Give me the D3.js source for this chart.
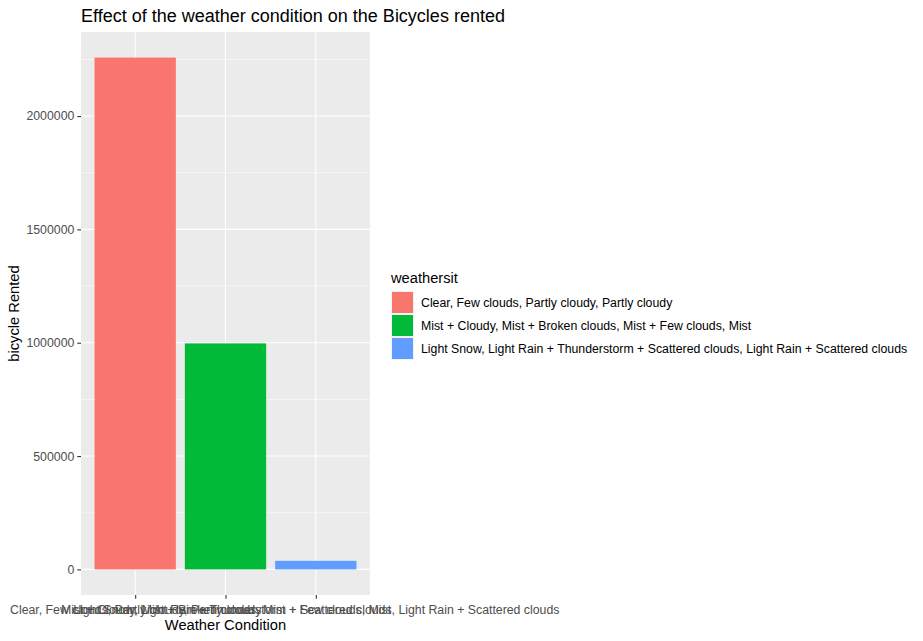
<!DOCTYPE html>
<html><head><meta charset="utf-8">
<script src="https://cdn.jsdelivr.net/npm/d3@7"></script>
<style>body{margin:0;background:#fff;} text{font-family:"Liberation Sans",Arial,sans-serif;}</style>
</head><body><svg id="c" width="923" height="641"></svg>
<script>
const categories = [
  "Clear, Few clouds, Partly cloudy, Partly cloudy",
  "Mist + Cloudy, Mist + Broken clouds, Mist + Few clouds, Mist",
  "Light Snow, Light Rain + Thunderstorm + Scattered clouds, Light Rain + Scattered clouds"
];
const rented = [2257952, 996858, 37869];
const colors = ["#F8766D", "#00BA38", "#619CFF"];
const yTicks = [0, 500000, 1000000, 1500000, 2000000];

const svg = d3.select("#c");
const P = {l:81, r:370, t:32, b:595};
const FS = "12.3px";

const ymax = d3.max(rented);
const y = d3.scaleLinear().domain([-0.05*ymax, 1.05*ymax]).range([P.b, P.t]);
const xc = d3.scaleLinear().domain([0.4, 3.6]).range([P.l, P.r]);
const unit = xc(2) - xc(1);

svg.append("rect").attr("x",P.l).attr("y",P.t).attr("width",P.r-P.l).attr("height",P.b-P.t).attr("fill","#EBEBEB");

const minors = [250000, 750000, 1250000, 1750000, 2250000];
svg.selectAll(".mg").data(minors).enter().append("line")
  .attr("x1",P.l).attr("x2",P.r).attr("y1",d=>y(d)).attr("y2",d=>y(d))
  .attr("stroke","#fff").attr("stroke-width",0.55);
svg.selectAll(".gy").data(yTicks).enter().append("line")
  .attr("x1",P.l).attr("x2",P.r).attr("y1",d=>y(d)).attr("y2",d=>y(d))
  .attr("stroke","#fff").attr("stroke-width",1.1);
svg.selectAll(".gx").data(categories).enter().append("line")
  .attr("x1",(d,i)=>xc(i+1)).attr("x2",(d,i)=>xc(i+1)).attr("y1",P.t).attr("y2",P.b)
  .attr("stroke","#fff").attr("stroke-width",1.1);

svg.selectAll(".bar").data(rented).enter().append("rect")
  .attr("x",(d,i)=>xc(i+1)-0.45*unit).attr("width",0.9*unit)
  .attr("y",d=>y(d)).attr("height",d=>y(0)-y(d))
  .attr("fill",(d,i)=>colors[i]);

const ya = svg.append("g").attr("transform",`translate(${P.l},0)`)
  .call(d3.axisLeft(y).tickValues(yTicks).tickSize(3.7).tickSizeOuter(0).tickPadding(3).tickFormat(d3.format("d")));
ya.select(".domain").remove();
ya.selectAll("line").attr("stroke","#333").attr("stroke-width",1.1);
ya.selectAll("text").attr("fill","#4D4D4D").style("font-size",FS).style("font-family","Liberation Sans, Arial, sans-serif");

const xa = svg.append("g").attr("transform",`translate(0,${P.b})`)
  .call(d3.axisBottom(xc).tickValues([1,2,3]).tickSize(3.7).tickSizeOuter(0).tickPadding(6.5).tickFormat(d=>categories[d-1]));
xa.select(".domain").remove();
xa.selectAll("line").attr("stroke","#333").attr("stroke-width",1.1);
xa.selectAll("text").attr("fill","#4D4D4D").style("font-size",FS).style("font-family","Liberation Sans, Arial, sans-serif");

svg.append("text").attr("x",(P.l+P.r)/2).attr("y",630).attr("text-anchor","middle")
  .style("font-size","14.7px").text("Weather Condition");
svg.append("text").attr("transform",`translate(19,${(P.t+P.b)/2}) rotate(-90)`).attr("text-anchor","middle")
  .style("font-size","14.7px").text("bicycle Rented");
svg.append("text").attr("x",P.l).attr("y",22).style("font-size","18px").text("Effect of the weather condition on the Bicycles rented");

svg.append("text").attr("x",391).attr("y",283).style("font-size","14.7px").text("weathersit");
const lg = svg.selectAll(".lg").data(categories).enter().append("g")
  .attr("transform",(d,i)=>`translate(391,${291+i*23})`);
lg.append("rect").attr("width",23).attr("height",23).attr("fill","#F2F2F2");
lg.append("rect").attr("x",1).attr("y",1).attr("width",21).attr("height",21).attr("fill",(d,i)=>colors[i]);
lg.append("text").attr("x",30).attr("y",16).style("font-size",FS).attr("fill","#000").text(d=>d);
</script></body></html>
